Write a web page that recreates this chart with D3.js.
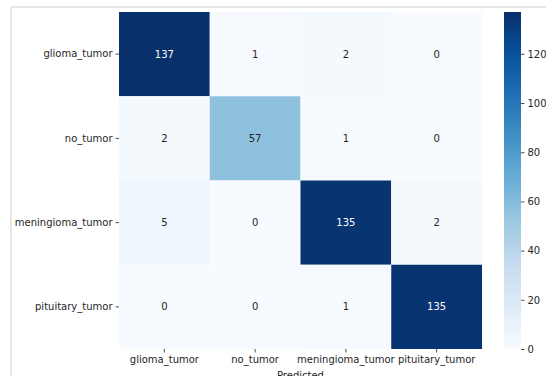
<!DOCTYPE html>
<html>
<head>
<meta charset="utf-8">
<script src="https://cdn.jsdelivr.net/npm/d3@7"></script>
<style>
  html, body { margin: 0; padding: 0; background: #fff; }
  svg { display: block; }
  text { font-family: "DejaVu Sans", sans-serif; }
</style>
</head>
<body>
<div id="chart"></div>
<script>
// Confusion matrix of the brain tumor classifier
const classes = ["glioma_tumor", "no_tumor", "meningioma_tumor", "pituitary_tumor"];
const rowGlioma = [137, 1, 2, 0];
const rowNoTumor = [2, 57, 1, 0];
const rowMeningioma = [5, 0, 135, 2];
const rowPituitary = [0, 0, 1, 135];
const matrix = [rowGlioma, rowNoTumor, rowMeningioma, rowPituitary];
const colorbarTicks = [0, 20, 40, 60, 80, 100, 120];
const xLabel = "Predicted";

const W = 546, H = 376;
const svg = d3.select("#chart").append("svg").attr("width", W).attr("height", H);

// notebook output frame
svg.append("line").attr("x1", 11).attr("x2", W).attr("y1", 7).attr("y2", 7)
  .attr("stroke", "#e6e6e6").attr("stroke-width", 2);
svg.append("line").attr("x1", 11).attr("x2", 11).attr("y1", 7).attr("y2", H)
  .attr("stroke", "#e6e6e6").attr("stroke-width", 2);

const plot = { left: 119, right: 482, top: 12, bottom: 349 };

const x = d3.scaleBand().domain(classes).range([plot.left, plot.right]).padding(0);
const y = d3.scaleBand().domain(classes).range([plot.top, plot.bottom]).padding(0);

// matplotlib "Blues": piecewise-linear through the ColorBrewer anchors
const blues = ["#f7fbff", "#deebf7", "#c6dbef", "#9ecae1", "#6baed6",
               "#4292c6", "#2171b5", "#08519c", "#08306b"];
const vmax = d3.max(matrix.flat());
const color = d3.scaleLinear()
  .domain(blues.map((_, i) => i / (blues.length - 1) * vmax))
  .range(blues)
  .interpolate(d3.interpolateRgb);

const cells = [];
matrix.forEach((row, i) => row.forEach((v, j) => cells.push({ r: classes[i], c: classes[j], v })));

svg.append("g").selectAll("rect").data(cells).join("rect")
  .attr("x", d => x(d.c)).attr("y", d => y(d.r))
  .attr("width", x.bandwidth()).attr("height", y.bandwidth())
  .attr("fill", d => color(d.v));

function luminance(c) {
  const rgb = d3.rgb(c);
  const f = v => { v /= 255; return v <= 0.03928 ? v / 12.92 : Math.pow((v + 0.055) / 1.055, 2.4); };
  return 0.2126 * f(rgb.r) + 0.7152 * f(rgb.g) + 0.0722 * f(rgb.b);
}

svg.append("g").selectAll("text").data(cells).join("text")
  .attr("x", d => x(d.c) + x.bandwidth() / 2)
  .attr("y", d => y(d.r) + y.bandwidth() / 2)
  .attr("text-anchor", "middle").attr("dominant-baseline", "central")
  .attr("font-size", 10)
  .attr("fill", d => luminance(color(d.v)) > 0.408 ? "#262626" : "#ffffff")
  .text(d => d.v);

// axes
const xAxis = svg.append("g").attr("transform", `translate(0,${plot.bottom})`)
  .call(d3.axisBottom(x).tickSize(3.5).tickPadding(3));
const yAxis = svg.append("g").attr("transform", `translate(${plot.left},0)`)
  .call(d3.axisLeft(y).tickSize(3.5).tickPadding(3));
[xAxis, yAxis].forEach(a => {
  a.select(".domain").remove();
  a.selectAll("text").attr("font-size", 10).attr("fill", "#262626")
    .attr("font-family", "DejaVu Sans, sans-serif");
  a.selectAll("line").attr("stroke", "#262626").attr("stroke-width", 0.8);
});

svg.append("text").attr("x", (plot.left + plot.right) / 2).attr("y", 379)
  .attr("text-anchor", "middle").attr("font-size", 10).attr("fill", "#262626")
  .text(xLabel);

// colorbar
const cb = { left: 504, width: 17 };
const cbScale = d3.scaleLinear().domain([0, vmax]).range([plot.bottom, plot.top]);
const defs = svg.append("defs");
const grad = defs.append("linearGradient").attr("id", "cbgrad")
  .attr("x1", 0).attr("x2", 0).attr("y1", 1).attr("y2", 0);
d3.range(0, 1.0001, 0.02).forEach(t => {
  grad.append("stop").attr("offset", t).attr("stop-color", color(t * vmax));
});
svg.append("rect").attr("x", cb.left).attr("y", plot.top)
  .attr("width", cb.width).attr("height", plot.bottom - plot.top)
  .attr("fill", "url(#cbgrad)");

const cbAxis = svg.append("g").attr("transform", `translate(${cb.left + cb.width},0)`)
  .call(d3.axisRight(cbScale).tickValues(colorbarTicks).tickSize(3.5).tickPadding(3));
cbAxis.select(".domain").remove();
cbAxis.selectAll("text").attr("font-size", 10).attr("fill", "#262626")
  .attr("font-family", "DejaVu Sans, sans-serif");
cbAxis.selectAll("line").attr("stroke", "#262626").attr("stroke-width", 0.8);
</script>
</body>
</html>
